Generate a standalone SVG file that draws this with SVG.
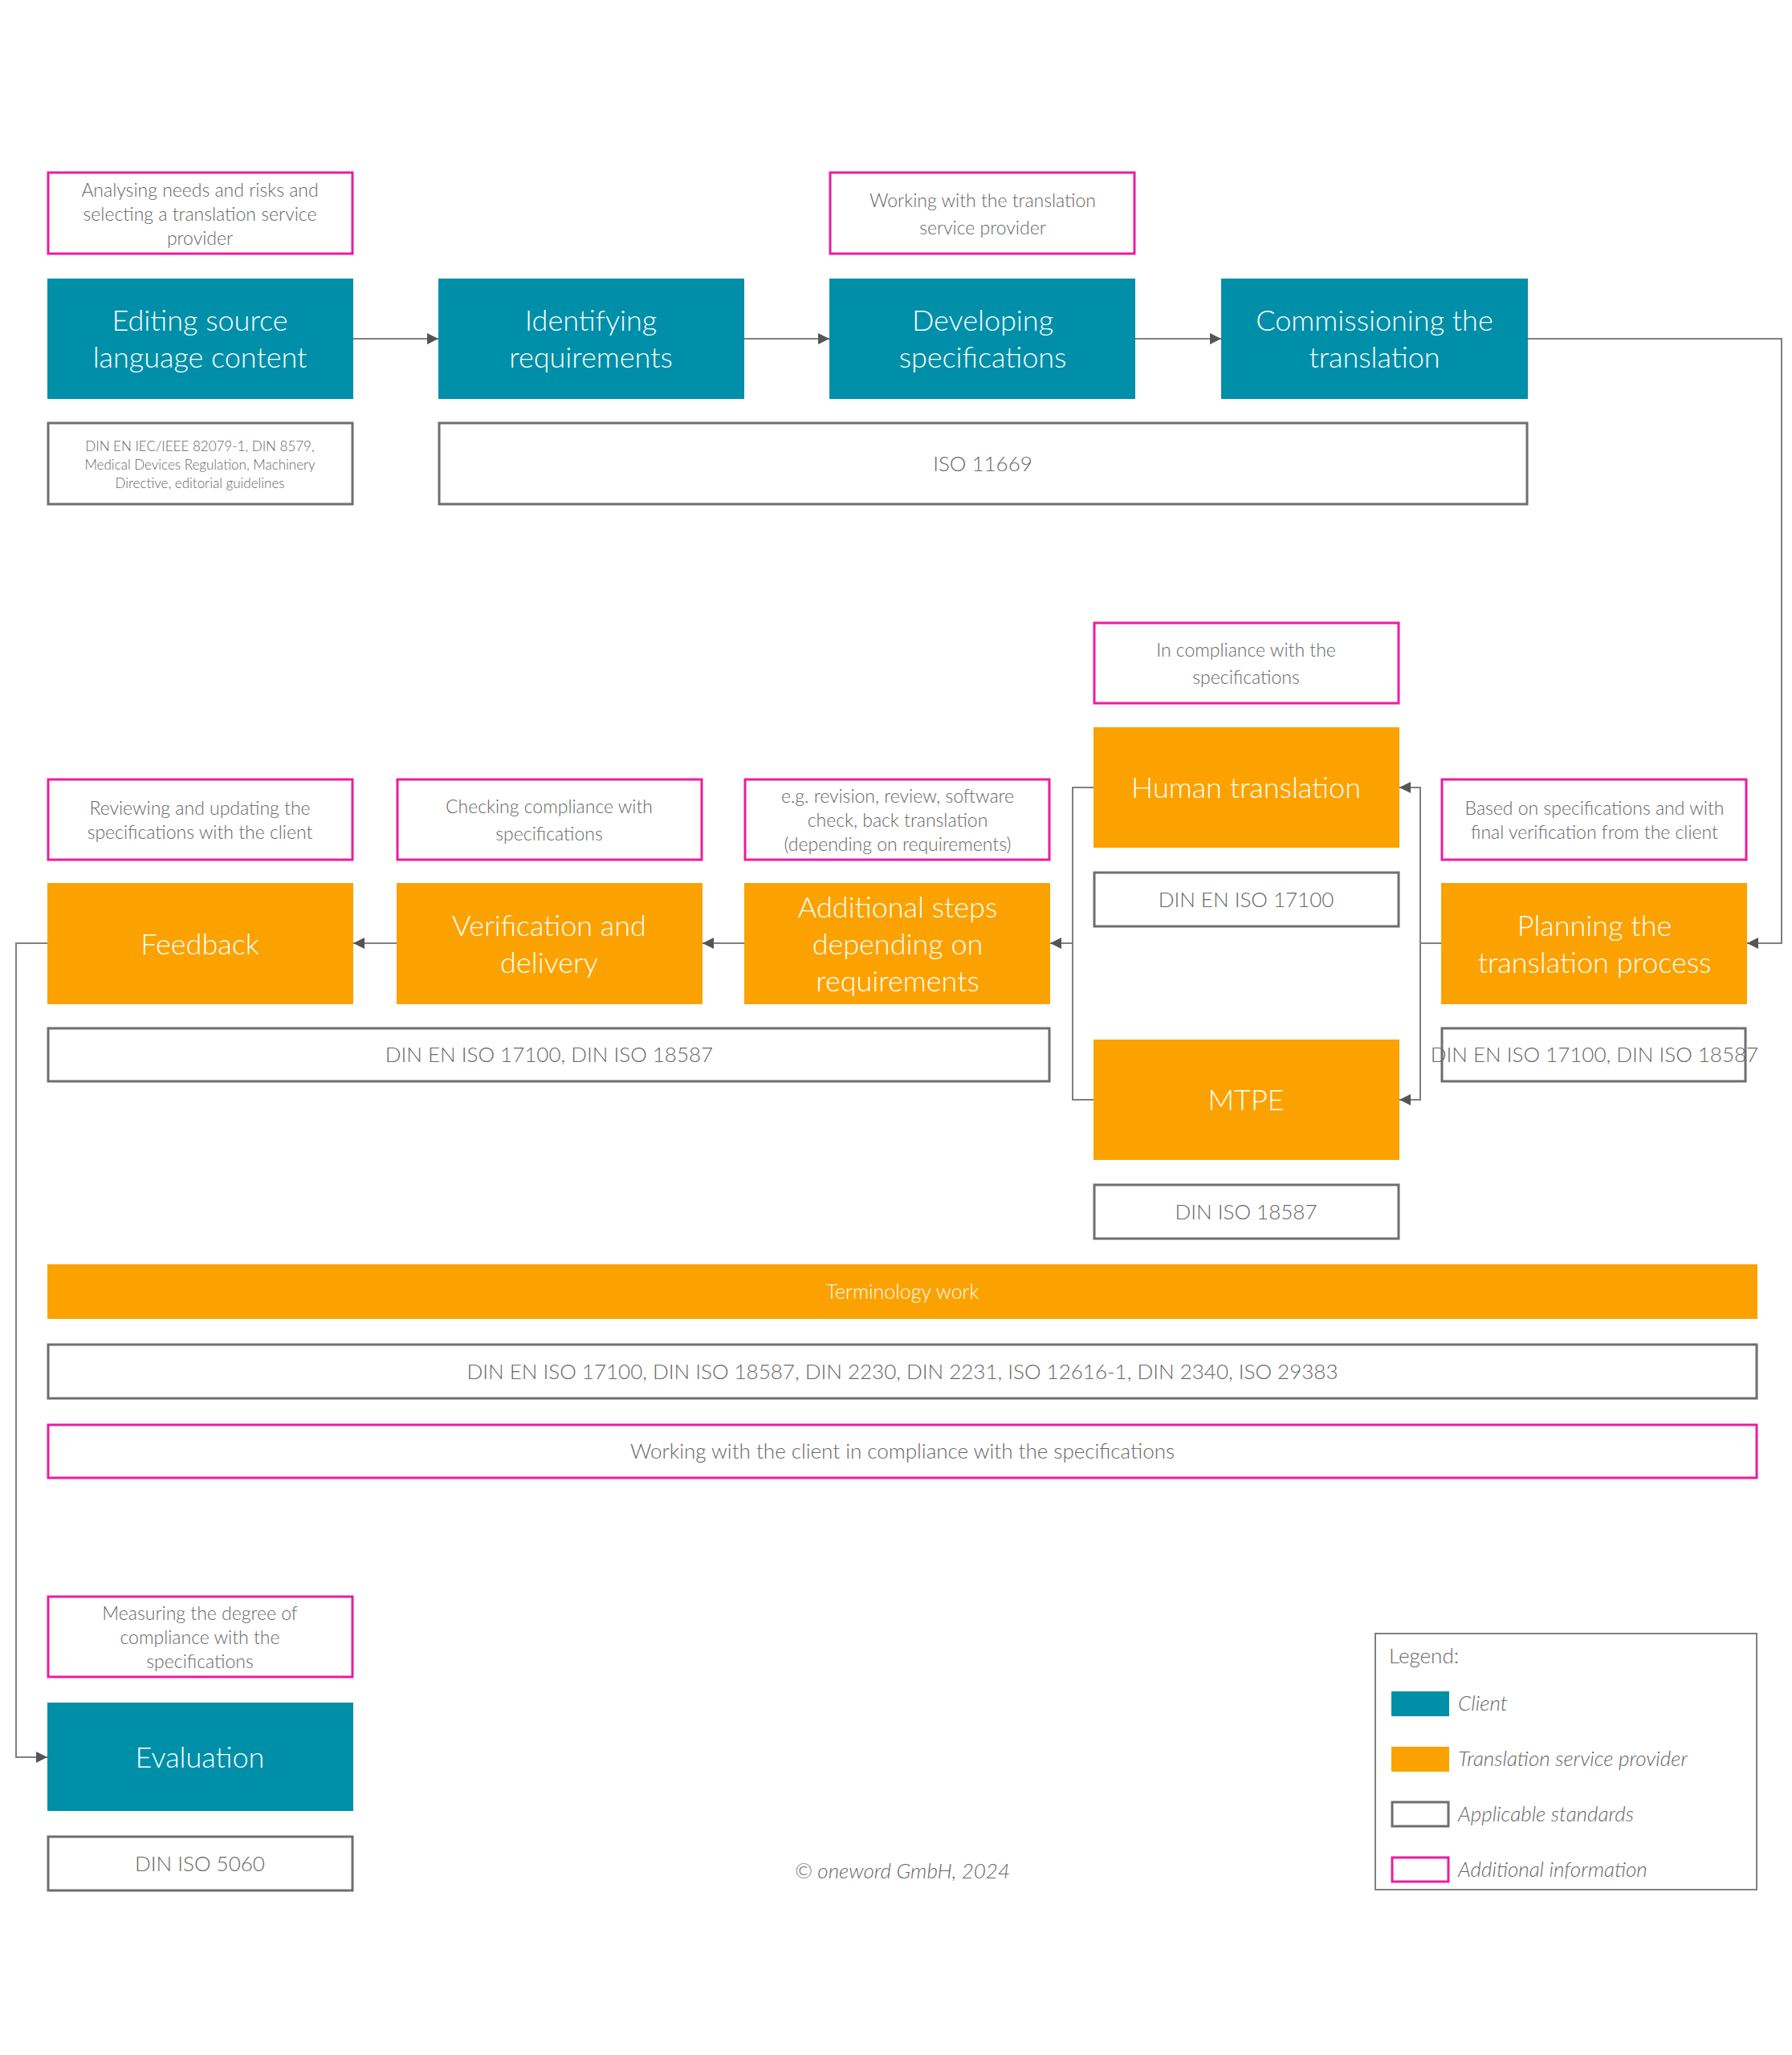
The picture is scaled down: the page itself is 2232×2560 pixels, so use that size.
<svg xmlns="http://www.w3.org/2000/svg" width="2232" height="2560" viewBox="0 0 2232 2560">
<style>
text{font-family:Lato,"Open Sans","Liberation Sans",sans-serif;font-weight:300;text-anchor:middle}
.c{fill:#008FA9}.o{fill:#FBA200}
.t{fill:#fff;font-size:36px}
.p{fill:#fff;stroke:#EC1C9F;stroke-width:3}
.s{fill:#fff;stroke:#6e6e6e;stroke-width:3}
.pt{fill:#666;font-size:23px}
.st{fill:#666;font-size:26px}
.ln{fill:none;stroke:#808080;stroke-width:2}
.lg{fill:#666;font-size:26px;font-style:italic;text-anchor:start}
</style>
<defs><marker id="a" viewBox="0 0 10 10" refX="10" refY="5" markerWidth="14" markerHeight="14" markerUnits="userSpaceOnUse" orient="auto"><path d="M0,0L10,5L0,10z" fill="#555"/></marker></defs>
<rect width="2232" height="2560" fill="#fff"/>
<g id="connectors" class="ln" marker-end="url(#a)">
<path d="M440,422H546"/><path d="M927,422H1033"/><path d="M1414,422H1521"/>
<path d="M1903,422H2219V1175H2176"/>
<path d="M1795,1175H1769V981H1743"/><path d="M1769,1175V1370H1743"/>
<path d="M1362,981H1336V1370H1362" marker-end="none"/>
<path d="M1336,1175H1308"/>
<path d="M927,1175H875"/><path d="M494,1175H440"/>
<path d="M59,1175H20V2189H59"/>
</g>
<g id="n1"><rect class="p" x="60" y="215" width="379" height="101"/><text class="pt" x="249" y="245">Analysing needs and risks and</text><text class="pt" x="249" y="275">selecting a translation service</text><text class="pt" x="249" y="305">provider</text>
<rect class="c" x="59" y="347" width="381" height="150"/><text class="t" x="249" y="412">Editing source</text><text class="t" x="249" y="458">language content</text>
<rect class="s" x="60" y="527" width="379" height="101"/><text style="fill:#666;font-size:17px" x="249" y="562">DIN EN IEC/IEEE 82079-1, DIN 8579,</text><text style="fill:#666;font-size:17px" x="249" y="585">Medical Devices Regulation, Machinery</text><text style="fill:#666;font-size:17px" x="249" y="608">Directive, editorial guidelines</text></g>
<g id="n2"><rect class="c" x="546" y="347" width="381" height="150"/><text class="t" x="736" y="412">Identifying</text><text class="t" x="736" y="458">requirements</text></g>
<g id="n3"><rect class="p" x="1034" y="215" width="379" height="101"/><text class="pt" x="1224" y="258">Working with the translation</text><text class="pt" x="1224" y="292">service provider</text>
<rect class="c" x="1033" y="347" width="381" height="150"/><text class="t" x="1224" y="412">Developing</text><text class="t" x="1224" y="458">specifications</text></g>
<g id="n4"><rect class="c" x="1521" y="347" width="382" height="150"/><text class="t" x="1712" y="412">Commissioning the</text><text class="t" x="1712" y="458">translation</text></g>
<g id="s1"><rect class="s" x="547" y="527" width="1355" height="101"/><text class="st" x="1224" y="587">ISO 11669</text></g>
<g id="n5"><rect class="p" x="1363" y="776" width="379" height="100"/><text class="pt" x="1552" y="818">In compliance with the</text><text class="pt" x="1552" y="852">specifications</text>
<rect class="o" x="1362" y="906" width="381" height="150"/><text class="t" x="1552" y="994">Human translation</text>
<rect class="s" x="1363" y="1087" width="379" height="67"/><text class="st" x="1552" y="1130">DIN EN ISO 17100</text></g>
<g id="n6"><rect class="o" x="1362" y="1295" width="381" height="150"/><text class="t" x="1552" y="1383">MTPE</text>
<rect class="s" x="1363" y="1476" width="379" height="67"/><text class="st" x="1552" y="1519">DIN ISO 18587</text></g>
<g id="n7"><rect class="p" x="1796" y="971" width="379" height="100"/><text class="pt" x="1986" y="1015">Based on specifications and with</text><text class="pt" x="1986" y="1045">final verification from the client</text>
<rect class="o" x="1795" y="1100" width="381" height="151"/><text class="t" x="1986" y="1166">Planning the</text><text class="t" x="1986" y="1212">translation process</text>
<rect class="s" x="1796" y="1281" width="378" height="66"/><text class="st" x="1986" y="1323">DIN EN ISO 17100, DIN ISO 18587</text></g>
<g id="n8"><rect class="p" x="928" y="971" width="379" height="100"/><text class="pt" x="1118" y="1000">e.g. revision, review, software</text><text class="pt" x="1118" y="1030">check, back translation</text><text class="pt" x="1118" y="1060">(depending on requirements)</text>
<rect class="o" x="927" y="1100" width="381" height="151"/><text class="t" x="1118" y="1143">Additional steps</text><text class="t" x="1118" y="1189">depending on</text><text class="t" x="1118" y="1235">requirements</text></g>
<g id="n9"><rect class="p" x="495" y="971" width="379" height="100"/><text class="pt" x="684" y="1013">Checking compliance with</text><text class="pt" x="684" y="1047">specifications</text>
<rect class="o" x="494" y="1100" width="381" height="151"/><text class="t" x="684" y="1166">Verification and</text><text class="t" x="684" y="1212">delivery</text></g>
<g id="n10"><rect class="p" x="60" y="971" width="379" height="100"/><text class="pt" x="249" y="1015">Reviewing and updating the</text><text class="pt" x="249" y="1045">specifications with the client</text>
<rect class="o" x="59" y="1100" width="381" height="151"/><text class="t" x="249" y="1189">Feedback</text></g>
<g id="s2"><rect class="s" x="60" y="1281" width="1247" height="66"/><text class="st" x="684" y="1323">DIN EN ISO 17100, DIN ISO 18587</text></g>
<g id="term"><rect class="o" x="59" y="1575" width="2130" height="68"/><text style="fill:#fff;font-size:25px" x="1124" y="1618">Terminology work</text>
<rect class="s" x="60" y="1675" width="2128" height="67"/><text class="st" x="1124" y="1718">DIN EN ISO 17100, DIN ISO 18587, DIN 2230, DIN 2231, ISO 12616-1, DIN 2340, ISO 29383</text>
<rect class="p" x="60" y="1775" width="2128" height="66"/><text class="st" x="1124" y="1817">Working with the client in compliance with the specifications</text></g>
<g id="n11"><rect class="p" x="60" y="1989" width="379" height="100"/><text class="pt" x="249" y="2018">Measuring the degree of</text><text class="pt" x="249" y="2048">compliance with the</text><text class="pt" x="249" y="2078">specifications</text>
<rect class="c" x="59" y="2121" width="381" height="135"/><text class="t" x="249" y="2202">Evaluation</text>
<rect class="s" x="60" y="2288" width="379" height="67"/><text class="st" x="249" y="2331">DIN ISO 5060</text></g>
<text style="fill:#666;font-size:26px;font-style:italic" x="1124" y="2340">© oneword GmbH, 2024</text>
<g id="legend"><rect x="1713" y="2035" width="475" height="319" fill="#fff" stroke="#808080" stroke-width="2"/>
<text class="lg" x="1730" y="2072" style="font-style:normal">Legend:</text>
<rect class="c" x="1733" y="2107" width="72" height="31"/><text class="lg" x="1816" y="2131">Client</text>
<rect class="o" x="1733" y="2176" width="72" height="31"/><text class="lg" x="1816" y="2200">Translation service provider</text>
<rect class="s" x="1734" y="2245" width="70" height="30"/><text class="lg" x="1816" y="2269">Applicable standards</text>
<rect class="p" x="1734" y="2314" width="70" height="30"/><text class="lg" x="1816" y="2338">Additional information</text></g>
</svg>
